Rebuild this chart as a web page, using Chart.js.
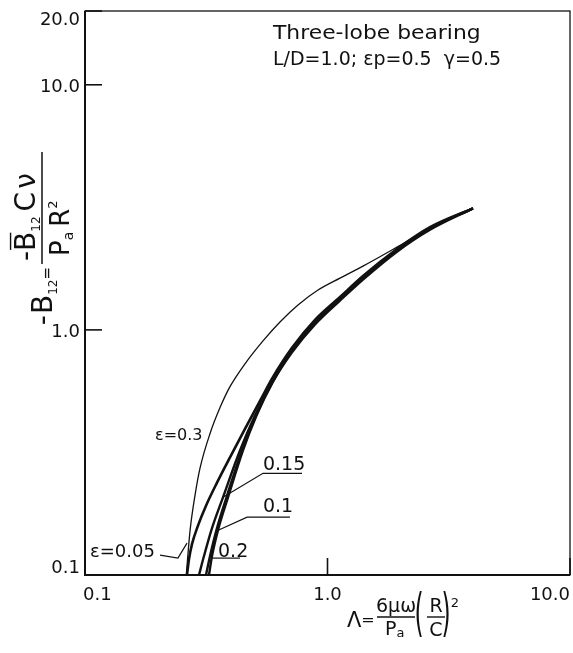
<!DOCTYPE html>
<html>
<head>
<meta charset="utf-8">
<script src="https://cdn.jsdelivr.net/npm/chart.js@4.4.0/dist/chart.umd.min.js"></script>
<style>
  body { margin: 0; background: #fff; }
  #wrap { width: 573px; height: 653px; position: relative; }
</style>
</head>
<body>
<div id="wrap"><canvas id="chart"></canvas></div>
<script>
// Three-lobe bearing, -B12 against Lambda on log-log axes

const xTicks = [0.1, 1, 10];
const xTickLabels = ['0.1', '1.0', '10.0'];
const yTicks = [0.1, 1, 10, 20];
const yTickLabels = ['0.1', '1.0', '10.0', '20.0'];

// curves
const eps005X = [0.2634, 0.2685, 0.2762, 0.2924, 0.3155, 0.3502, 0.3962, 0.4568, 0.5370, 0.5904, 0.7139, 0.8881, 1.1259, 1.4007, 1.934, 2.647, 3.981];
const eps005Y = [0.1, 0.1162, 0.1337, 0.1591, 0.1918, 0.2380, 0.3020, 0.3945, 0.5321, 0.6328, 0.8449, 1.0981, 1.3614, 1.658, 2.135, 2.623, 3.132];

const eps01X = [0.3155, 0.3278, 0.3502, 0.3833, 0.4441, 0.5071, 0.5904, 0.7139, 0.8881, 1.1259, 1.4007, 1.934, 2.647, 3.981];
const eps01Y = [0.1, 0.1195, 0.1553, 0.2075, 0.3222, 0.4471, 0.6094, 0.8214, 1.0678, 1.3366, 1.627, 2.115, 2.598, 3.132];

const eps015X = [0.2952, 0.3095, 0.3340, 0.3707, 0.4357, 0.5023, 0.5904, 0.7139, 0.8881, 1.1259, 1.4007, 1.934, 2.647, 3.981];
const eps015Y = [0.1, 0.1195, 0.1553, 0.2075, 0.3222, 0.4471, 0.6094, 0.8214, 1.0678, 1.3366, 1.627, 2.115, 2.598, 3.132];

const eps02X = [0.3245, 0.3340, 0.3553, 0.3888, 0.4482, 0.5095, 0.5932, 0.7139, 0.8881, 1.1259, 1.4007, 1.934, 2.647, 3.981];
const eps02Y = [0.1, 0.1195, 0.1553, 0.2075, 0.3222, 0.4471, 0.6094, 0.8099, 1.0529, 1.318, 1.605, 2.085, 2.562, 3.132];

const eps03X = [0.2616, 0.2710, 0.2842, 0.2979, 0.3278, 0.3604, 0.3962, 0.4568, 0.5420, 0.6369, 0.7559, 0.9137, 1.1259, 1.4007, 1.934, 2.647, 3.981];
const eps03Y = [0.1, 0.1510, 0.2114, 0.2723, 0.3777, 0.4819, 0.5866, 0.7275, 0.9022, 1.0777, 1.2637, 1.4542, 1.627, 1.820, 2.175, 2.598, 3.132];

// curve labels and their leader lines
const noteText = ['ε=0.05', '0.1', '0.15', '0.2', 'ε=0.3'];
const noteX = [0.1049, 0.542, 0.542, 0.3536, 0.1944];
const noteY = [0.1184, 0.1804, 0.2672, 0.1184, 0.354];

const leader005X = [0.2039, 0.2417, 0.2634];
const leader005Y = [0.1206, 0.1172, 0.1349];
const leader01X = [0.700, 0.466, 0.3469];
const leader01Y = [0.1721, 0.1721, 0.1509];
const leader015X = [0.785, 0.542, 0.3707];
const leader015Y = [0.2599, 0.2599, 0.2075];
const leader02X = [0.4357, 0.3309];
const leader02Y = [0.1172, 0.1172];

const titleLines = ['Three-lobe bearing', 'L/D=1.0; εp=0.5  γ=0.5'];
const titleX = [0.596, 0.596];
const titleY = [15.38, 12.06];

const FONT = '"DejaVu Sans", sans-serif';
const INK = '#111';

function toPoints(xs, ys) {
    return xs.map((x, i) => ({ x: x, y: ys[i] }));
}

function curve(xs, ys, width) {
    return {
        data: toPoints(xs, ys),
        borderColor: INK,
        borderWidth: width,
        pointRadius: 0,
        cubicInterpolationMode: 'monotone',
        fill: false
    };
}

function leader(xs, ys) {
    return {
        data: toPoints(xs, ys),
        borderColor: INK,
        borderWidth: 1.2,
        pointRadius: 0,
        tension: 0,
        fill: false
    };
}

// draw a run of text pieces (sub/superscripts) starting at u
function drawRun(ctx, pieces, u, v) {
    pieces.forEach(p => {
        ctx.font = p.size + 'px ' + FONT;
        const w = ctx.measureText(p.t).width;
        ctx.fillText(p.t, u, v + (p.dv || 0));
        if (p.bar) {
            ctx.beginPath();
            ctx.moveTo(u + 1, v - p.size * 0.73 - 4);
            ctx.lineTo(u + w - 1, v - p.size * 0.73 - 4);
            ctx.stroke();
        }
        u += w + (p.gap || 0);
    });
    return u;
}

function runWidth(ctx, pieces) {
    let w = 0;
    pieces.forEach(p => {
        ctx.font = p.size + 'px ' + FONT;
        w += ctx.measureText(p.t).width + (p.gap || 0);
    });
    return w;
}

const framePlugin = {
    id: 'framePlugin',
    afterDraw(chart) {
        const ctx = chart.ctx;
        const a = chart.chartArea;
        const xs = chart.scales.x;
        const ys = chart.scales.y;
        ctx.save();
        ctx.strokeStyle = INK;
        ctx.fillStyle = INK;

        // frame
        ctx.lineWidth = 1.3;
        ctx.strokeRect(a.left, a.top, a.right - a.left, a.bottom - a.top);
        ctx.lineWidth = 2;
        ctx.beginPath();
        ctx.moveTo(a.left, a.top);
        ctx.lineTo(a.left, a.bottom);
        ctx.lineTo(a.right, a.bottom);
        ctx.stroke();

        // inward ticks
        ctx.lineWidth = 1.6;
        xTicks.forEach(v => {
            const px = xs.getPixelForValue(v);
            ctx.beginPath();
            ctx.moveTo(px, a.bottom);
            ctx.lineTo(px, a.bottom - 17);
            ctx.stroke();
        });
        yTicks.forEach(v => {
            const py = ys.getPixelForValue(v);
            if (py < a.top) return;
            ctx.beginPath();
            ctx.moveTo(a.left, py);
            ctx.lineTo(a.left + 17, py);
            ctx.stroke();
        });

        // tick labels
        ctx.font = '18px ' + FONT;
        ctx.textBaseline = 'alphabetic';
        xTicks.forEach((v, i) => {
            const px = xs.getPixelForValue(v);
            ctx.textAlign = i === 0 ? 'left' : (i === xTicks.length - 1 ? 'right' : 'center');
            ctx.fillText(xTickLabels[i], i === 0 ? px - 2 : px, a.bottom + 25);
        });
        ctx.textAlign = 'right';
        yTicks.forEach((v, i) => {
            const py = ys.getPixelForValue(v);
            let y = py + 7;
            if (i === 0) y = a.bottom - 2;
            if (i === yTicks.length - 1) y = a.top + 14;
            ctx.fillText(yTickLabels[i], a.left - 5, y);
        });

        // title (first line drawn a little wider, like the original lettering)
        ctx.textAlign = 'left';
        ctx.font = '19px ' + FONT;
        titleLines.forEach((t, i) => {
            const tx = xs.getPixelForValue(titleX[i]);
            const ty = ys.getPixelForValue(titleY[i]);
            ctx.save();
            ctx.translate(tx, ty);
            if (i === 0) ctx.scale(1.15, 1);
            ctx.fillText(t, 0, 0);
            ctx.restore();
        });

        // curve labels
        noteText.forEach((t, i) => {
            ctx.font = (i === 4 ? 16 : (i === 0 ? 18 : 19)) + 'px ' + FONT;
            ctx.fillText(t, xs.getPixelForValue(noteX[i]), ys.getPixelForValue(noteY[i]));
        });

        // x axis title: Λ = 6μω/Pa (R/C)^2
        ctx.lineWidth = 1.4;
        const bx = a.left, by = a.bottom;
        drawRun(ctx, [{ t: 'Λ', size: 21 }, { t: '=', size: 16, dv: -2 }], bx + 262, by + 52);
        ctx.textAlign = 'center';
        ctx.font = '19px ' + FONT;
        ctx.fillText('6μω', bx + 311, by + 37);
        ctx.beginPath(); ctx.moveTo(bx + 292, by + 42); ctx.lineTo(bx + 330, by + 42); ctx.stroke();
        ctx.textAlign = 'left';
        drawRun(ctx, [{ t: 'P', size: 19 }, { t: 'a', size: 13, dv: 2 }], bx + 300, by + 60);
        ctx.save();
        ctx.translate(bx + 334, by + 55);
        ctx.scale(0.45, 1);
        ctx.font = '52px ' + FONT;
        ctx.textAlign = 'center';
        ctx.fillText('(', 0, 0);
        ctx.fillText(')', 60, 0);
        ctx.restore();
        ctx.textAlign = 'center';
        ctx.font = '19px ' + FONT;
        ctx.fillText('R', bx + 351, by + 37);
        ctx.fillText('C', bx + 351, by + 61);
        ctx.beginPath(); ctx.moveTo(bx + 342, by + 42); ctx.lineTo(bx + 360, by + 42); ctx.stroke();
        ctx.font = '13px ' + FONT;
        ctx.fillText('2', bx + 370, by + 32);

        // y axis title, rotated: -B12 = -B̄12 C ν / (Pa R^2)
        ctx.save();
        ctx.translate(a.left - 43, a.top + 253);
        ctx.rotate(-Math.PI / 2);
        ctx.textAlign = 'left';
        const main = [{ t: '-', size: 28, gap: 1 }, { t: 'B', size: 28 }, { t: '12', size: 12, dv: 5 }, { t: '=', size: 15 }];
        drawRun(ctx, main, -3 - runWidth(ctx, main), 10);
        const num = [{ t: '-', size: 28 }, { t: 'B', size: 28, bar: true }, { t: '12', size: 12, dv: 5, gap: 5 }, { t: 'C', size: 28, gap: 3 }, { t: 'ν', size: 28 }];
        drawRun(ctx, num, 3, -7);
        const den = [{ t: 'P', size: 26 }, { t: 'a', size: 14, dv: 4, gap: 5 }, { t: 'R', size: 26 }, { t: '2', size: 13, dv: -12 }];
        drawRun(ctx, den, 8, 27);
        ctx.lineWidth = 1.5;
        ctx.beginPath(); ctx.moveTo(0, 0); ctx.lineTo(112, 0); ctx.stroke();
        ctx.restore();

        ctx.restore();
    }
};

new Chart(document.getElementById('chart'), {
    type: 'line',
    data: {
        datasets: [
            curve(eps005X, eps005Y, 2.6),
            curve(eps01X, eps01Y, 2.4),
            curve(eps015X, eps015Y, 2.4),
            curve(eps02X, eps02Y, 2.4),
            curve(eps03X, eps03Y, 1.3),
            leader(leader005X, leader005Y),
            leader(leader01X, leader01Y),
            leader(leader015X, leader015Y),
            leader(leader02X, leader02Y)
        ]
    },
    options: {
        responsive: true,
        maintainAspectRatio: false,
        animation: false,
        devicePixelRatio: 1,
        layout: { padding: { left: 85, top: 11, right: 3, bottom: 78 } },
        plugins: { legend: { display: false }, tooltip: { enabled: false } },
        scales: {
            x: { type: 'logarithmic', min: 0.1, max: 10, display: false },
            y: { type: 'logarithmic', min: 0.1, max: 20, display: false }
        }
    },
    plugins: [framePlugin]
});
</script>
</body>
</html>
